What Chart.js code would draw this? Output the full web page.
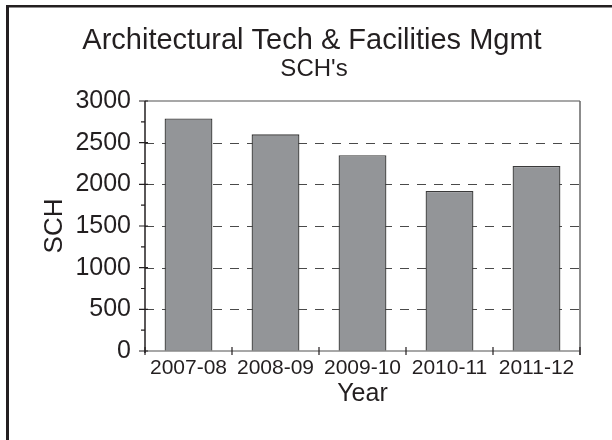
<!DOCTYPE html>
<html lang="en">
<head>
    <meta charset="UTF-8">
    <title>Architectural Tech & Facilities Mgmt - SCH's</title>
    <script src="https://cdn.jsdelivr.net/npm/chart.js"></script>
    <style>
        body {
            margin: 0;
            background: #fff;
        }
    </style>
</head>
<body>
    <canvas id="sch-chart" width="612" height="440"></canvas>

    <script>
        // Student credit hours per academic year
        const years = ['2007-08', '2008-09', '2009-10', '2010-11', '2011-12'];
        const sch = [2790, 2600, 2350, 1920, 2220];
        const yTicks = [0, 500, 1000, 1500, 2000, 2500, 3000];

        const FONT = "'Liberation Sans', Arial, sans-serif";
        const INK = '#231f20';

        // Frame, dashed grid, axis lines, tick marks and the two-line title
        const decorations = {
            id: 'decorations',
            beforeDatasetsDraw(chart) {
                const { ctx, chartArea, scales: { y } } = chart;
                ctx.save();
                ctx.strokeStyle = '#4a4a4a';
                ctx.lineWidth = 1.2;
                ctx.setLineDash([9, 8]);
                yTicks.slice(1, -1).forEach(v => {
                    const py = Math.round(y.getPixelForValue(v)) + 0.5;
                    ctx.beginPath();
                    ctx.moveTo(chartArea.left, py);
                    ctx.lineTo(chartArea.right, py);
                    ctx.stroke();
                });
                ctx.restore();
            },
            afterDraw(chart) {
                const { ctx, chartArea, scales: { x, y } } = chart;
                const { left, right, top, bottom } = chartArea;
                ctx.save();

                // outer frame (left and top edges)
                ctx.fillStyle = INK;
                ctx.fillRect(6, 5, 3, 435);
                ctx.fillRect(6, 5, 606, 2.5);

                // plot box: top, right and x axis in grey
                ctx.lineWidth = 1.5;
                ctx.strokeStyle = '#8a8a8a';
                ctx.beginPath();
                ctx.moveTo(left, top); ctx.lineTo(right, top);
                ctx.moveTo(left, bottom); ctx.lineTo(right, bottom);
                ctx.stroke();
                ctx.strokeStyle = '#666';
                ctx.beginPath();
                ctx.moveTo(right, top); ctx.lineTo(right, bottom + 4);
                ctx.stroke();

                // y axis line
                ctx.strokeStyle = INK;
                ctx.lineWidth = 1.5;
                ctx.beginPath();
                ctx.moveTo(left, top); ctx.lineTo(left, bottom + 2);
                ctx.stroke();

                // y tick marks: major ticks cross the axis, minor ticks outside
                ctx.lineWidth = 1.2;
                ctx.beginPath();
                yTicks.forEach((v, i) => {
                    const py = y.getPixelForValue(v);
                    ctx.moveTo(left - 6, py); ctx.lineTo(left + 3, py);
                    if (i < yTicks.length - 1) {
                        const pm = y.getPixelForValue(v + 250);
                        ctx.moveTo(left - 4, pm); ctx.lineTo(left, pm);
                    }
                });
                ctx.stroke();

                // x tick marks at the category boundaries
                const half = (x.getPixelForValue(1) - x.getPixelForValue(0)) / 2;
                ctx.beginPath();
                for (let i = 0; i <= years.length; i++) {
                    const px = x.getPixelForValue(i) - half;
                    ctx.moveTo(px, bottom - 4); ctx.lineTo(px, bottom + 4);
                }
                ctx.stroke();

                // title
                ctx.fillStyle = INK;
                ctx.textAlign = 'center';
                ctx.textBaseline = 'alphabetic';
                ctx.font = '29px ' + FONT;
                ctx.fillText('Architectural Tech & Facilities Mgmt', 312, 49);
                ctx.font = '24px ' + FONT;
                ctx.fillText("SCH's", 314, 76);

                ctx.restore();
            }
        };

        function createSCHBarChart() {
            const ctx = document.getElementById('sch-chart').getContext('2d');
            new Chart(ctx, {
                type: 'bar',
                data: {
                    labels: years,
                    datasets: [
                        {
                            label: 'SCH',
                            data: sch,
                            backgroundColor: '#939598',
                            borderColor: '#3a3a3a',
                            borderWidth: 1.3,
                            borderSkipped: 'start',
                            barPercentage: 0.55,
                            categoryPercentage: 1,
                        },
                    ],
                },
                options: {
                    responsive: false,
                    animation: false,
                    layout: {
                        padding: { left: 0, right: 32, top: 101, bottom: 0 },
                    },
                    plugins: {
                        legend: { display: false },
                        title: { display: false },
                        tooltip: { enabled: false },
                    },
                    scales: {
                        x: {
                            grid: { display: false, drawTicks: false },
                            border: { display: false },
                            ticks: {
                                color: INK,
                                padding: 5,
                                maxRotation: 0,
                                font: { family: FONT, size: 21 },
                            },
                            title: {
                                display: true,
                                text: 'Year',
                                color: INK,
                                padding: { top: 0, bottom: 31 },
                                font: { family: FONT, size: 25 },
                            },
                            afterFit(scale) {
                                scale.height = 89;
                            },
                        },
                        y: {
                            min: 0,
                            max: 3000,
                            grid: { display: false, drawTicks: false },
                            border: { display: false },
                            ticks: {
                                stepSize: 500,
                                color: INK,
                                padding: 14,
                                font: { family: FONT, size: 25 },
                                callback: value => String(value),
                            },
                            title: {
                                display: true,
                                text: 'SCH',
                                color: INK,
                                padding: { top: 39, bottom: 0 },
                                font: { family: FONT, size: 26 },
                            },
                            afterFit(scale) {
                                scale.width = 145;
                            },
                        },
                    },
                },
                plugins: [decorations],
            });
        }

        createSCHBarChart();
    </script>
</body>
</html>
